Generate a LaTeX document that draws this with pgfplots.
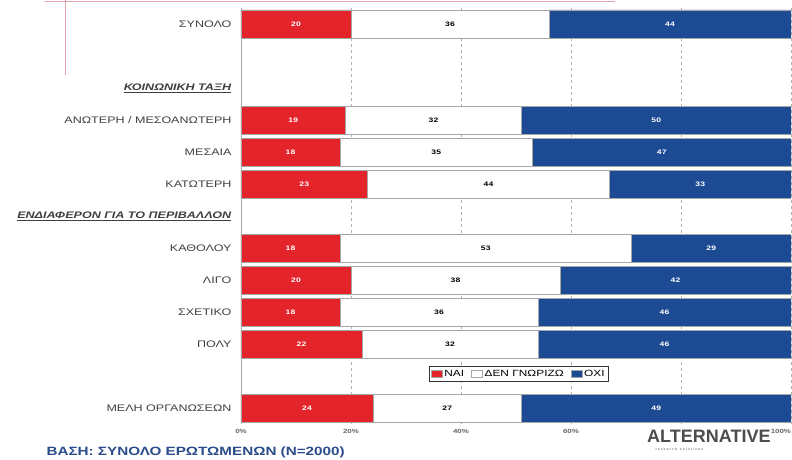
\documentclass[border=0pt]{standalone}
\usepackage{fontspec}
\setmainfont{Liberation Sans}
\newfontfamily\wide[FakeStretch=1.32]{Liberation Sans}
\newfontfamily\widefoot[FakeStretch=1.27]{Liberation Sans}
\usepackage{pgfplots}
\usepackage{pgfplotstable}
\pgfplotsset{compat=1.18}
\definecolor{nai}{HTML}{E3242B}
\definecolor{oxi}{HTML}{1C4B93}
\definecolor{foot}{HTML}{2B4C8C}
\definecolor{pinkline}{HTML}{E8A0AA}

% values per series (y = row index, v = percent)
\pgfplotstableread{
y v
0 20
3 19
4 18
5 23
7 18
8 20
9 18
10 22
12 24
}\nai
\pgfplotstableread{
y v
0 36
3 32
4 35
5 44
7 53
8 38
9 36
10 32
12 27
}\den
\pgfplotstableread{
y v
0 44
3 50
4 47
5 33
7 29
8 42
9 46
10 46
12 49
}\oxi
% label positions (segment centres) for the value labels
\pgfplotstableread{
y c v
0 10 20
3 9.5 19
4 9 18
5 11.5 23
7 9 18
8 10 20
9 9 18
10 11 22
12 12 24
}\nailab
\pgfplotstableread{
y c v
0 38 36
3 35 32
4 35.5 35
5 45 44
7 44.5 53
8 39 38
9 36 36
10 38 32
12 37.5 27
}\denlab
\pgfplotstableread{
y c v
0 78 44
3 75.5 50
4 76.5 47
5 83.5 33
7 85.5 29
8 79 42
9 77 46
10 77 46
12 75.5 49
}\oxilab

\begin{document}
\begin{tikzpicture}[x=1pt,y=1pt]
\path[use as bounding box] (0,0) rectangle (792,460);
\draw[pinkline, line width=1pt] (45,458) -- (615,458);
\draw[pinkline, line width=1pt] (65,460) -- (65,385);
\begin{axis}[
  at={(241pt,36pt)}, anchor=south west,
  width=550pt, height=416pt, scale only axis,
  xbar stacked, bar width=28pt,
  xmin=0, xmax=100, ymin=-0.5, ymax=12.5,
  y dir=reverse,
  axis lines*=left,
  x axis line style={draw=none},
  y axis line style={draw=gray!70, line width=0.8pt},
  major tick length=0pt,
  xtick={0,20,40,60,80,100},
  xticklabels={0\%,20\%,40\%,60\%,{},\makebox[0pt][r]{100\%}},
  xticklabel style={font=\wide\fontsize{6}{7}\selectfont\bfseries, text=gray!80!black, yshift=-2pt},
  xmajorgrids, x grid style={dashed, gray!60},
  ytick={0,1,2,3,4,5,6,7,8,9,10,11,12},
  yticklabels={ΣΥΝΟΛΟ,{},\underline{\textbf{\textit{ΚΟΙΝΩΝΙΚΗ ΤΑΞΗ}}},ΑΝΩΤΕΡΗ / ΜΕΣΟΑΝΩΤΕΡΗ,ΜΕΣΑΙΑ,ΚΑΤΩΤΕΡΗ,\underline{\textbf{\textit{ΕΝΔΙΑΦΕΡΟΝ ΓΙΑ ΤΟ ΠΕΡΙΒΑΛΛΟΝ}}},ΚΑΘΟΛΟΥ,ΛΙΓΟ,ΣΧΕΤΙΚΟ,ΠΟΛΥ,{},ΜΕΛΗ ΟΡΓΑΝΩΣΕΩΝ},
  yticklabel style={font=\wide\fontsize{9.5}{10}\selectfont, text=black!75, xshift=-6pt},
  legend columns=3,
  legend style={at={(0.505,0.12)}, anchor=center, draw=black!80, line width=0.5pt,
    font=\wide\fontsize{9}{10}\selectfont, inner sep=1.5pt, row sep=0pt,
    /tikz/every even column/.append style={column sep=5pt}},
  legend image code/.code={\draw[#1, draw=gray!70] (0pt,-3.5pt) rectangle (11pt,3.5pt);},
]
\addplot[fill=nai, draw=gray!70] table[x=v, y=y] {\nai};
\addplot[fill=white, draw=gray!70] table[x=v, y=y] {\den};
\addplot[fill=oxi, draw=gray!70] table[x=v, y=y] {\oxi};
\legend{ΝΑΙ,ΔΕΝ ΓΝΩΡΙΖΩ,ΟΧΙ}
\end{axis}
\begin{axis}[
  at={(241pt,36pt)}, anchor=south west,
  width=550pt, height=416pt, scale only axis,
  xmin=0, xmax=100, ymin=-0.5, ymax=12.5,
  y dir=reverse, hide axis,
  nodes near coords, point meta=explicit symbolic,
  every node near coord/.append style={anchor=center, font=\wide\fontsize{6.5}{7}\selectfont\bfseries},
]
\addplot[only marks, mark=none, nodes near coords style={text=white}] table[x=c, y=y, meta=v] {\nailab};
\addplot[only marks, mark=none, nodes near coords style={text=black}] table[x=c, y=y, meta=v] {\denlab};
\addplot[only marks, mark=none, nodes near coords style={text=white}] table[x=c, y=y, meta=v] {\oxilab};
\end{axis}
\node[anchor=west, font=\widefoot\fontsize{12}{13}\selectfont\bfseries, text=foot] at (43,8) {ΒΑΣΗ: ΣΥΝΟΛΟ ΕΡΩΤΩΜΕΝΩΝ (N=2000)};
\node[anchor=west, inner sep=1pt, font=\fontsize{18}{19}\selectfont\bfseries, text=black!70] at (646,24) {ALTERNATIVE};
\node[anchor=west, font=\fontsize{3.5}{4}\selectfont\bfseries, text=black!50] at (652,11) {r e s e a r c h \ \ s o l u t i o n s};
\end{tikzpicture}
\end{document}
